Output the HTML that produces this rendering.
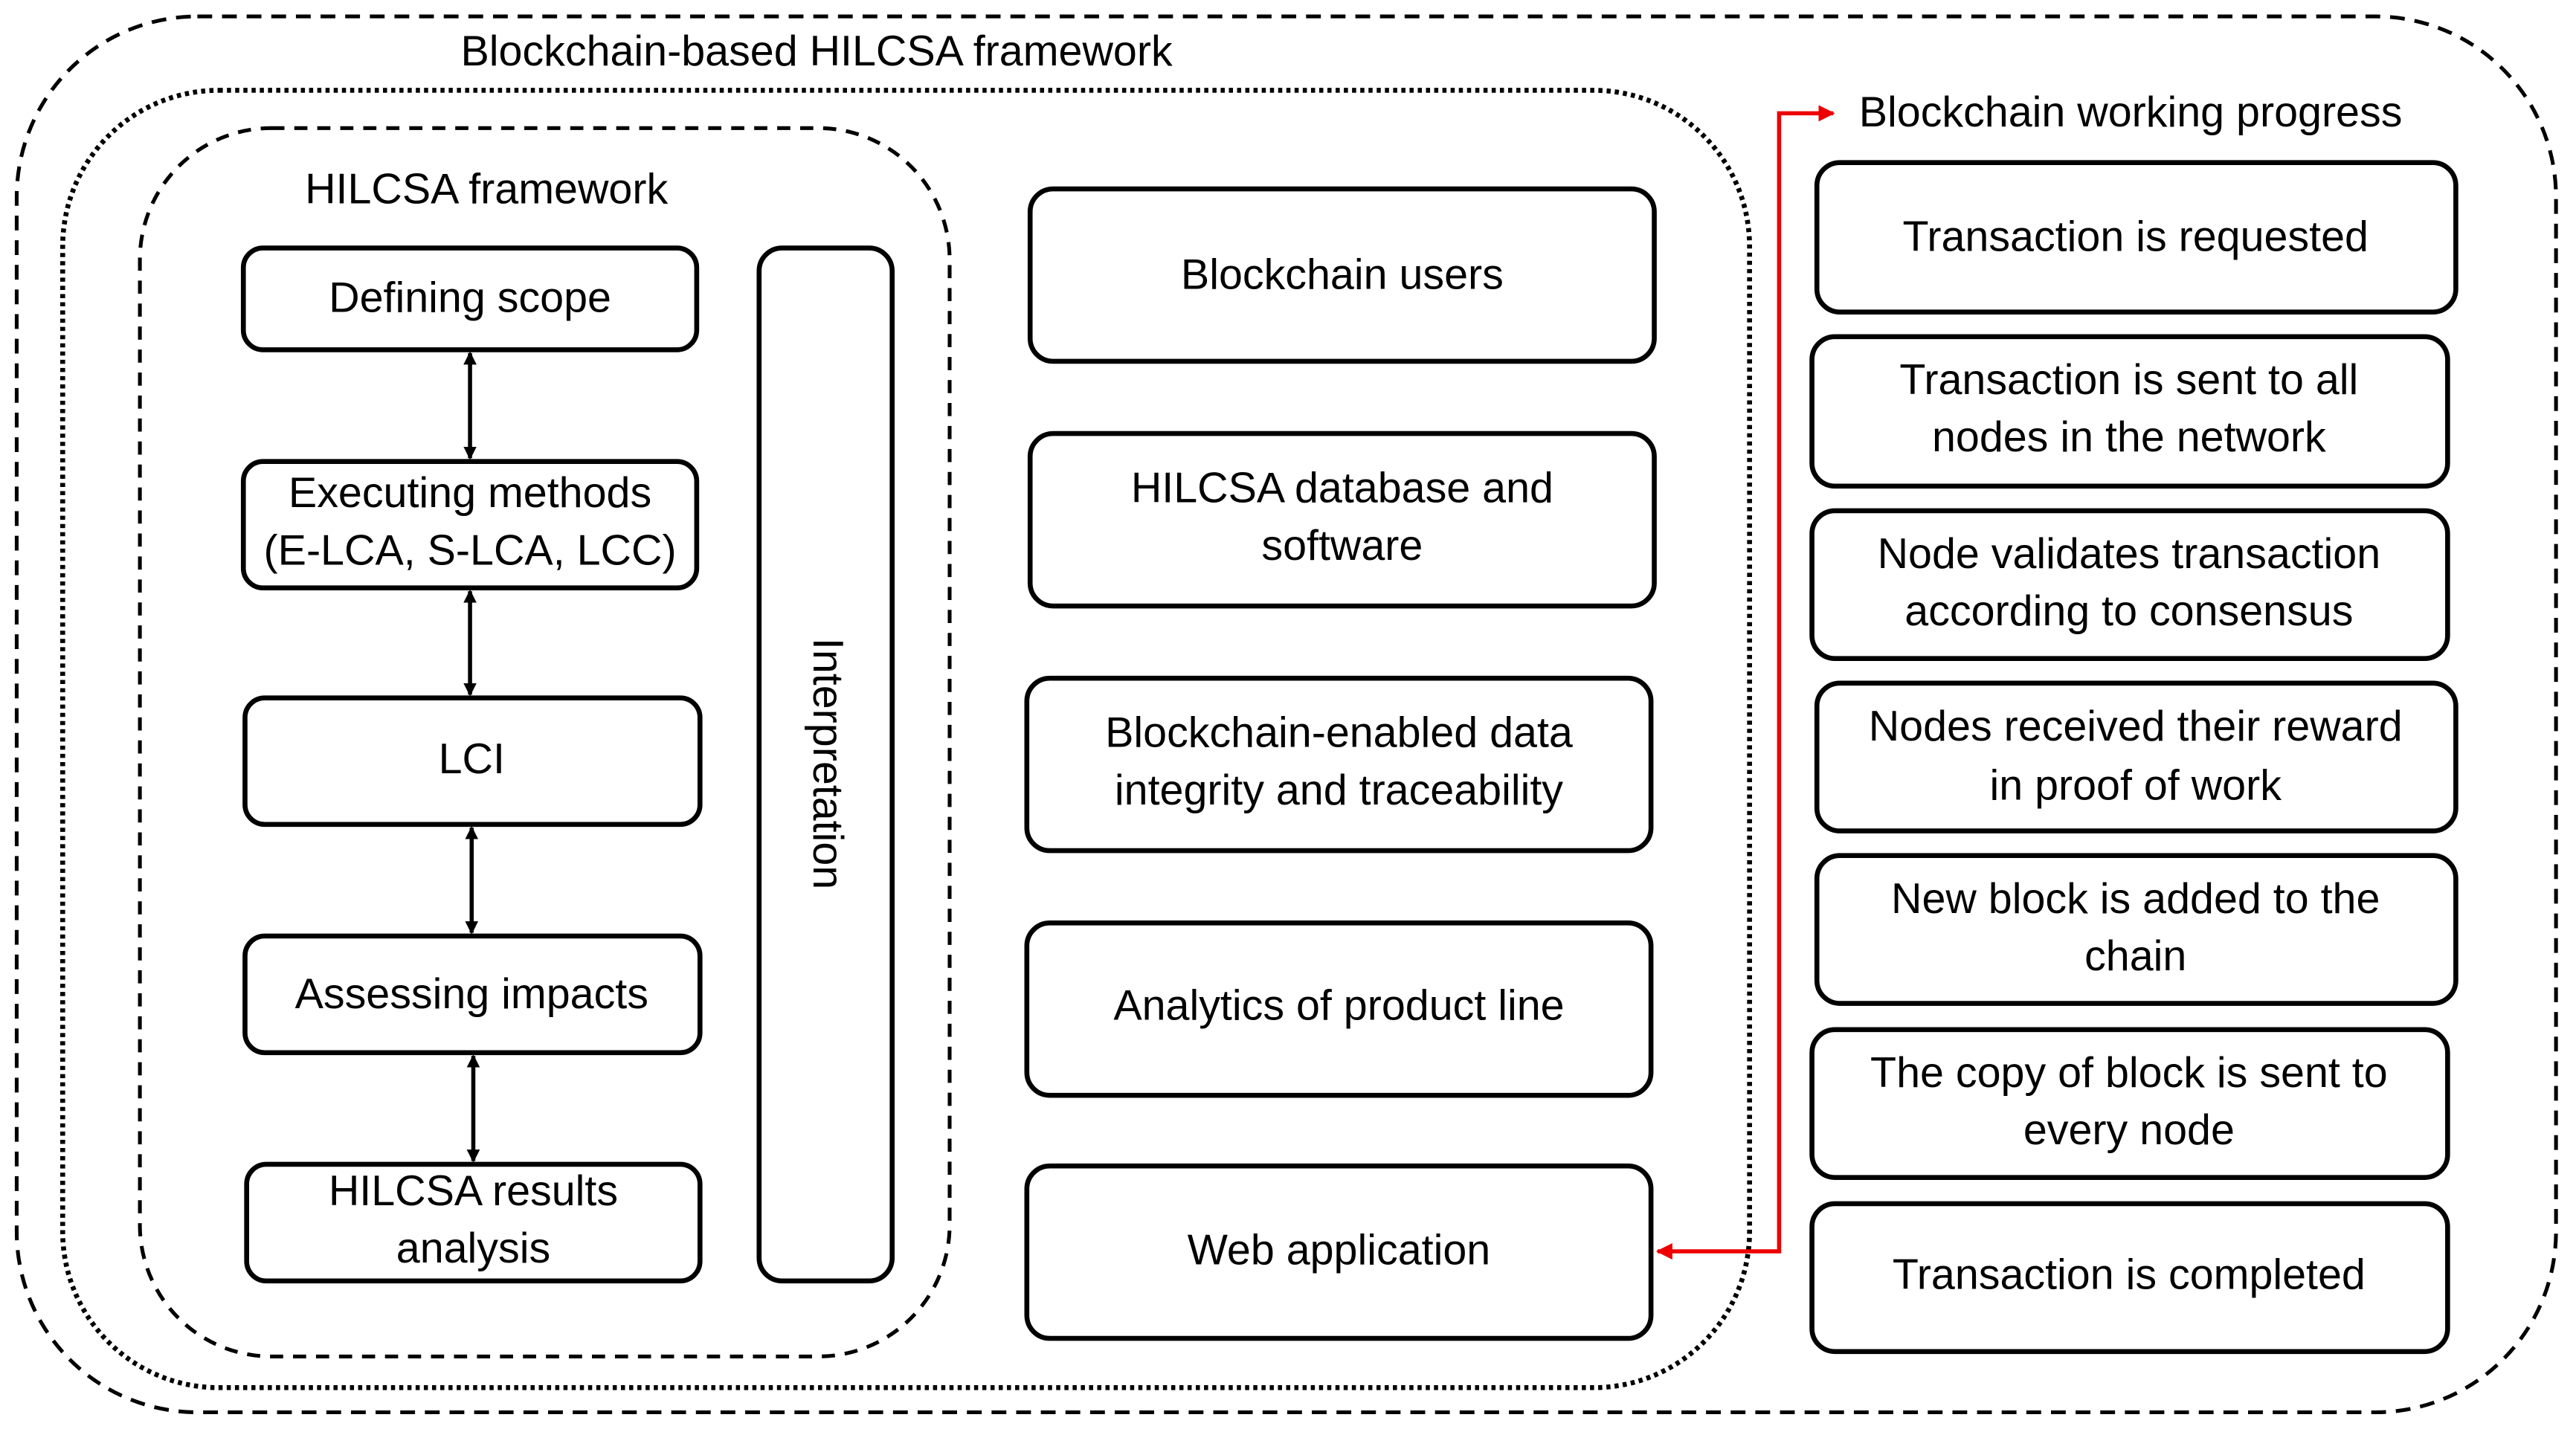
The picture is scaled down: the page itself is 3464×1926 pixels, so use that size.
<!DOCTYPE html>
<html><head><meta charset="utf-8"><style>
html,body{margin:0;padding:0;background:#fff;}
svg{display:block}
text{font-family:"Liberation Sans",sans-serif;font-size:26px;fill:#000;text-anchor:middle;dominant-baseline:middle}
.b{fill:#fff;stroke:#000;stroke-width:3}
</style></head><body>
<svg width="3464" height="1926" viewBox="0 0 1568 872" xmlns="http://www.w3.org/2000/svg">
<defs>
<marker id="ah" markerWidth="8" markerHeight="8" refX="7" refY="4" orient="auto-start-reverse" markerUnits="userSpaceOnUse"><path d="M0,0 L8,4 L0,8 z" fill="#000"/></marker>
<marker id="rh" markerWidth="10" markerHeight="10" refX="9" refY="5" orient="auto-start-reverse" markerUnits="userSpaceOnUse"><path d="M0,0 L10,5 L0,10 z" fill="#e00"/></marker>
</defs>
<rect x="10" y="10" width="1546" height="850" rx="110" fill="none" stroke="#000" stroke-width="2.3" stroke-dasharray="9,6"/>
<rect x="38" y="55" width="1027" height="790" rx="95" fill="none" stroke="#000" stroke-width="3" stroke-dasharray="2.5,2.5"/>
<rect x="85" y="78" width="493" height="748" rx="80" fill="none" stroke="#000" stroke-width="2.3" stroke-dasharray="8,6"/>
<text x="497" y="33" font-size="25.5">Blockchain-based HILCSA framework</text>
<text x="296" y="117" font-size="25.5">HILCSA framework</text>
<text x="1297" y="70" font-size="25.5">Blockchain working progress</text>

<rect class="b" x="148" y="151" width="276" height="62" rx="12"/><text x="286" y="183">Defining scope</text>
<rect class="b" x="148" y="281" width="276" height="77" rx="12"/><text x="286" y="302">Executing methods</text><text x="286" y="337">(E-LCA, S-LCA, LCC)</text>
<rect class="b" x="149" y="425" width="277" height="77" rx="12"/><text x="287" y="464">LCI</text>
<rect class="b" x="149" y="570" width="277" height="71" rx="12"/><text x="287" y="607">Assessing impacts</text>
<rect class="b" x="150" y="709" width="276" height="71" rx="12"/><text x="288" y="727">HILCSA results</text><text x="288" y="762">analysis</text>
<rect class="b" x="462" y="151" width="81" height="629" rx="14"/>
<text x="502" y="465" transform="rotate(90 502 465)">Interpretation</text>

<g stroke="#000" stroke-width="2.5" marker-start="url(#ah)" marker-end="url(#ah)">
<line x1="286" y1="215" x2="286" y2="279"/>
<line x1="286" y1="360" x2="286" y2="423"/>
<line x1="287" y1="504" x2="287" y2="568"/>
<line x1="288" y1="643" x2="288" y2="707"/>
</g>

<rect class="b" x="627" y="115" width="380" height="105" rx="14"/><text x="817" y="169">Blockchain users</text>
<rect class="b" x="627" y="264" width="380" height="105" rx="14"/><text x="817" y="299">HILCSA database and</text><text x="817" y="334">software</text>
<rect class="b" x="625" y="413" width="380" height="105" rx="14"/><text x="815" y="448">Blockchain-enabled data</text><text x="815" y="483">integrity and traceability</text>
<rect class="b" x="625" y="562" width="380" height="105" rx="14"/><text x="815" y="614">Analytics of product line</text>
<rect class="b" x="625" y="710" width="380" height="105" rx="14"/><text x="815" y="763">Web application</text>

<rect class="b" x="1106" y="99" width="389" height="91" rx="14"/><text x="1300" y="146">Transaction is requested</text>
<rect class="b" x="1103" y="205" width="387" height="91" rx="14"/><text x="1296" y="233">Transaction is sent to all</text><text x="1296" y="268">nodes in the network</text>
<rect class="b" x="1103" y="311" width="387" height="90" rx="14"/><text x="1296" y="339">Node validates transaction</text><text x="1296" y="374">according to consensus</text>
<rect class="b" x="1106" y="416" width="389" height="90" rx="14"/><text x="1300" y="444">Nodes received their reward</text><text x="1300" y="480">in proof of work</text>
<rect class="b" x="1106" y="521" width="389" height="90" rx="14"/><text x="1300" y="549">New block is added to the</text><text x="1300" y="584">chain</text>
<rect class="b" x="1103" y="627" width="387" height="90" rx="14"/><text x="1296" y="655">The copy of block is sent to</text><text x="1296" y="690">every node</text>
<rect class="b" x="1103" y="733" width="387" height="90" rx="14"/><text x="1296" y="778">Transaction is completed</text>

<polyline points="1009,762 1083,762 1083,69 1116,69" fill="none" stroke="#e00" stroke-width="2.5" marker-start="url(#rh)" marker-end="url(#rh)"/>
</svg>
</body></html>
